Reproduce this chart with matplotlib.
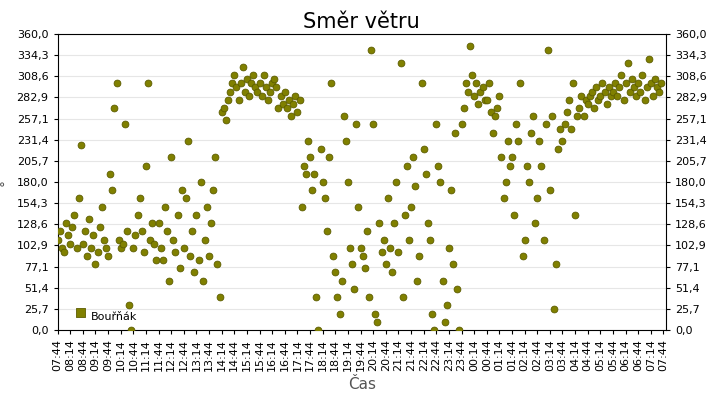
import matplotlib
matplotlib.use("Agg")
import matplotlib.pyplot as plt
import matplotlib.markers

# hourly blocks of wind direction readings (5-minute samples), starting 07:44
hour_blocks = [
    [110,120,100,95,130,115,105,125,140,100,160,225],
    [105,120,90,135,100,115,80,95,125,150,110,100],
    [90,190,170,270,300,110,100,105,250,120,30,0],
    [100,115,140,160,120,95,200,300,110,130,105,85],
    [130,100,85,150,120,60,210,110,95,140,75,170],
    [100,160,230,90,120,70,140,85,180,60,110,150],
    [90,130,170,210,80,40,265,270,255,280,290,300],
    [310,295,280,300,320,290,305,285,300,310,295,290],
    [300,285,310,295,280,290,300,305,295,270,285,275],
    [290,270,280,260,275,285,265,280,150,200,190,230],
    [210,170,190,40,0,220,180,160,120,210,300,90],
    [70,40,20,60,260,230,180,100,80,50,250,150],
    [100,90,75,120,40,340,250,20,10,130,95,110],
    [80,160,100,70,130,180,95,325,40,140,200,110],
    [150,210,175,60,90,300,220,190,130,110,20,0],
    [250,200,180,60,10,30,100,170,80,240,50,0],
    [250,270,300,290,345,310,285,300,275,290,295,280],
    [280,300,265,240,260,270,285,210,160,180,230,200],
    [210,140,250,230,300,90,110,200,180,240,260,130],
    [160,230,200,110,250,340,170,260,25,80,220,245],
    [230,250,265,280,245,300,140,260,270,285,260,280],
    [275,285,290,270,295,280,285,300,290,275,295,285],
    [290,300,285,295,310,280,300,325,290,305,295,285],
    [300,290,310,280,295,330,300,285,305,295,290,300],
]
values = [v for blk in hour_blocks for v in blk]
minutes = [i * 5 for i in range(len(values))]  # minutes since 07:44
start_min = 7 * 60 + 44
tick_minutes = list(range(0, 24 * 60 + 1, 30))
tick_labels = ["%02d:%02d" % (((start_min + m) // 60) % 24, (start_min + m) % 60) for m in tick_minutes]
y_ticks = [i * 360 / 14 for i in range(15)]
y_labels = [("%.1f" % t).replace(".", ",") for t in y_ticks]
series_name = "Bouřňák"

fig, ax = plt.subplots(figsize=(7.2, 4.0), dpi=100)
fig.subplots_adjust(left=0.08, right=0.925, top=0.915, bottom=0.175)
ax.scatter(minutes, values, s=24, color="#808000", edgecolor="#5c5c00", linewidth=0.6, zorder=3,
           label=series_name, marker="o")
ax.set_xlim(0, 24 * 60 + 6)
ax.set_ylim(0, 360)
ax.set_xticks(tick_minutes)
ax.set_xticklabels(tick_labels, rotation=90, fontsize=8)
ax.set_yticks(y_ticks)
ax.set_yticklabels(y_labels, fontsize=8)
ax.tick_params(axis="y", which="both", labelright=True, right=True, length=3)
ax.tick_params(axis="x", length=3)
ax.grid(axis="y", color="#e6e6e6", linewidth=0.8, zorder=0)
ax.set_title("Směr větru", fontsize=15, pad=4)
ax.set_xlabel("Čas", fontsize=11, color="#555555")
ax.set_ylabel("°", fontsize=10, color="#555555", labelpad=2)
leg = ax.legend(loc="lower left", frameon=False, fontsize=8,
                handletextpad=0.3, borderaxespad=0.3)
for h in leg.legend_handles:
    h.set_paths([matplotlib.markers.MarkerStyle("s").get_path()])
    h.set_sizes([45])
fig.savefig("out.png")
